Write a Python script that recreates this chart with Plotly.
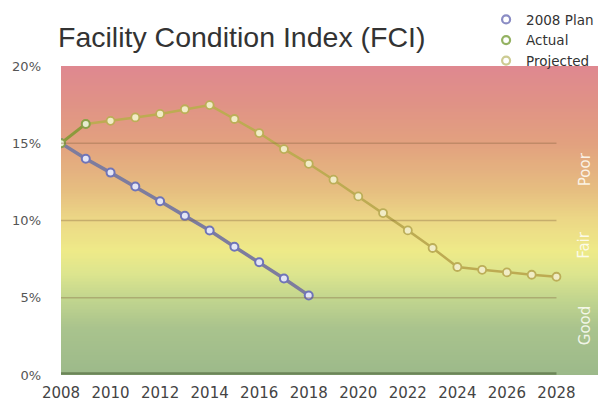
import numpy as np
import plotly.graph_objects as go

plan_years = list(range(2008, 2019))
plan_vals = [15.0, 14.0, 13.1, 12.2, 11.25, 10.3, 9.35, 8.3, 7.3, 6.25, 5.15]

actual_years = [2008, 2009]
actual_vals = [15.0, 16.25]

proj_years = list(range(2009, 2029))
proj_vals = [16.25, 16.45, 16.67, 16.9, 17.2, 17.47, 16.57, 15.66, 14.62, 13.67,
             12.64, 11.56, 10.48, 9.36, 8.22, 6.99, 6.81, 6.64, 6.49, 6.36]

y_ticks = [0, 5, 10, 15, 20]
y_ticklabels = ["0%", "5%", "10%", "15%", "20%"]
x_ticks = list(range(2008, 2029, 2))
zone_labels = ["Poor", "Fair", "Good"]
zone_pos = [13.3, 8.4, 3.2]

# background gradient (styling)
edges = np.linspace(0, 20, 201)
mids = (edges[:-1] + edges[1:]) / 2
bg_scale = [
    [0.0, "#9cb98a"], [0.15, "#a9c38d"], [0.25, "#c3d68e"], [0.33, "#dde58e"],
    [0.40, "#eeea88"], [0.50, "#ecd886"], [0.60, "#e6bd80"], [0.75, "#e2a17f"],
    [0.88, "#e09286"], [1.0, "#df8890"],
]

fig = go.Figure()
fig.add_trace(go.Heatmap(
    x=[2008, 2030], y=edges, z=[[m] for m in mids], zmin=0, zmax=20,
    colorscale=bg_scale, showscale=False, hoverinfo="skip", showlegend=False,
))

fig.add_trace(go.Scatter(
    x=plan_years, y=plan_vals, name="2008 Plan", mode="lines+markers",
    line=dict(color="#7d7c9e", width=3.5), showlegend=False,
    marker=dict(symbol="circle", size=8, color="#e4e6f6", line=dict(color="#6f74b8", width=2)),
))
fig.add_trace(go.Scatter(
    x=proj_years, y=proj_vals, name="Projected", mode="lines+markers",
    line=dict(color="#bdab52", width=2.5), showlegend=False,
    marker=dict(symbol="circle", size=8, color="#f1ecc6", line=dict(color="#bcae58", width=1.8)),
))
fig.add_trace(go.Scatter(
    x=actual_years, y=actual_vals, name="Actual", mode="lines+markers",
    line=dict(color="#8c9a3c", width=3), showlegend=False,
    marker=dict(symbol="circle", size=8, color="#e6edd0", line=dict(color="#8aa04a", width=2)),
))
# legend entries (marker only, as in the reference)
for nm, col in [("2008 Plan", "#8a8cc4"), ("Actual", "#94b262"), ("Projected", "#cccb92")]:
    fig.add_trace(go.Scatter(
        x=[None], y=[None], name=nm, mode="markers",
        marker=dict(symbol="circle-open", size=8, color=col, line=dict(width=2.2)),
    ))

shapes = []
for v in y_ticks[1:-1]:
    shapes.append(dict(type="line", xref="x", yref="y", x0=2008, x1=2028, y0=v, y1=v,
                       line=dict(color="rgba(130,95,60,0.35)", width=1.5), layer="above"))
shapes.append(dict(type="line", xref="x", yref="y", x0=2008, x1=2028, y0=0.1, y1=0.1,
                   line=dict(color="rgba(95,120,75,0.8)", width=2.5), layer="above"))

annotations = []
for lab, pos in zip(zone_labels, zone_pos):
    annotations.append(dict(text=lab, x=0.981, xref="paper", y=pos, yref="y", showarrow=False,
                            textangle=-90, font=dict(family="DejaVu Sans", size=15,
                                                     color="rgba(255,255,250,0.85)")))

W, H = 598, 402
fig.update_layout(
    width=W, height=H,
    margin=dict(l=53, r=0, t=58, b=35, autoexpand=False),
    paper_bgcolor="white", plot_bgcolor="white",
    title=dict(text="Facility Condition Index (FCI)", x=50/W, xanchor="left",
               y=1-29/H, yanchor="middle", yref="container",
               font=dict(family="Liberation Sans", size=28.5, color="#333333")),
    legend=dict(x=0.78, y=1.20, xanchor="left", yanchor="top",
                font=dict(family="DejaVu Sans", size=13.5, color="#333333"),
                bgcolor="rgba(0,0,0,0)", tracegroupgap=0),
    shapes=shapes, annotations=annotations,
    xaxis=dict(range=[2008, 2030], tickvals=x_ticks, showgrid=False, zeroline=False,
               showline=False, ticks="", ticklabelstandoff=7,
               tickfont=dict(family="DejaVu Sans", size=15, color="#444444")),
    yaxis=dict(range=[0, 20], tickvals=y_ticks, ticktext=y_ticklabels, showgrid=False,
               zeroline=False, showline=False, ticks="", ticklabelstandoff=19,
               tickfont=dict(family="DejaVu Sans", size=13, color="#555555")),
)

fig.write_html("out.html")
